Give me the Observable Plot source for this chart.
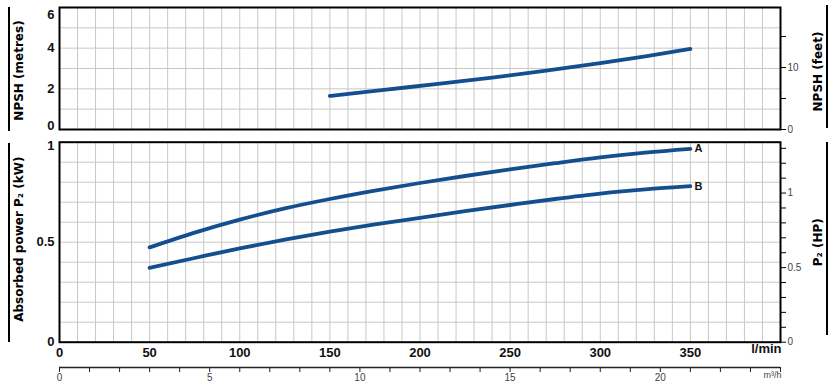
<!DOCTYPE html>
<html><head><meta charset="utf-8">
<script src="https://cdn.jsdelivr.net/npm/d3@7"></script>
<script src="https://cdn.jsdelivr.net/npm/@observablehq/plot@0.6"></script>
<style>
html,body{margin:0;padding:0;background:#fff;}
#chart{position:relative;width:838px;height:389px;overflow:hidden;background:#fff;}
#chart svg{position:absolute;left:0;overflow:visible;background:transparent;}
.bar{position:absolute;background:#000;width:2px;}
</style></head><body>
<div id="chart"></div>
<script>
// ---- data ----
const npshFlow   = [150, 180, 210, 240, 270, 300, 325, 350];           // l/min
const npshMetres = [1.65, 1.95, 2.24, 2.55, 2.89, 3.26, 3.60, 3.96];   // m

const powerFlow = [50, 75, 100, 125, 150, 175, 200, 225, 250, 275, 300, 325, 350]; // l/min
const powerA = [0.474, 0.548, 0.613, 0.669, 0.716, 0.758, 0.796, 0.831, 0.864, 0.895, 0.924, 0.948, 0.967]; // kW
const powerB = [0.372, 0.421, 0.469, 0.513, 0.553, 0.589, 0.622, 0.655, 0.686, 0.716, 0.743, 0.764, 0.780]; // kW
const curveNames = ["A", "B"];

// ---- ticks ----
const lminLabels = [0, 50, 100, 150, 200, 250, 300, 350];
const npshLeftLabels = [0, 2, 4, 6];
const feetTicks = [0, 5, 10, 15];
const feetLabels = [0, 10];
const kwLabels = [0, 0.5, 1];
const hpTicks = [0, 0.1, 0.2, 0.3, 0.4, 0.5, 0.6, 0.7, 0.8, 0.9, 1.0, 1.1, 1.2, 1.3];
const hpLabels = [0, 0.5, 1];
const m3hTicks = [0,1,2,3,4,5,6,7,8,9,10,11,12,13,14,15,16,17,18,19,20,21,22,23,24];
const m3hLabels = [0, 5, 10, 15, 20];

// unit conversions
const FT = 0.3048, HP = 0.7457;

const lminGrid = d3.range(10, 400, 10);
const npshGrid = d3.range(1, 6, 1);
const kwGrid = d3.range(1, 10).map(d => d / 10);

const FONT_NUM = '"Liberation Sans Narrow","Liberation Sans",Arial,sans-serif';
const FONT_SMALL = '"Liberation Sans",Arial,sans-serif';
const FONT_TITLE = '"DejaVu Sans",Verdana,sans-serif';
const BLUE = "#134f8e";
const GRID = "#c8c8c8";

const npsh = npshFlow.map((q, i) => ({q, h: npshMetres[i]}));
const power = [
  ...powerFlow.map((q, i) => ({q, p: powerA[i], c: curveNames[0]})),
  ...powerFlow.map((q, i) => ({q, p: powerB[i], c: curveNames[1]}))
];
const lastPoints = curveNames.map(c => power.filter(d => d.c === c).slice(-1)[0]);

const leftBold = {anchor: "left", label: null, tickSize: 0, tickPadding: 5, tickFormat: d => String(d),
  fontWeight: "bold", fontSize: 13, fontFamily: FONT_NUM, fill: "#111"};
const rightSmall = {anchor: "right", label: null, tickSize: 5, tickPadding: 2, fontSize: 10, fontFamily: FONT_SMALL, fill: "#444", stroke: "#000"};
const titleStyle = {rotate: -90, textAnchor: "middle", fontFamily: FONT_TITLE, fontWeight: "bold", fontSize: 12, fill: "#000"};

const common = {width: 838, marginLeft: 59, marginRight: 58, style: {background: "transparent", overflow: "visible"}};

// ---- top panel: NPSH ----
const topPlot = Plot.plot({
  ...common,
  height: 136, marginTop: 7, marginBottom: 7,
  x: {domain: [0, 400], axis: null},
  y: {domain: [0, 6], axis: null},
  marks: [
    Plot.gridX(lminGrid, {stroke: GRID, strokeOpacity: 1, strokeWidth: 1}),
    Plot.gridY(npshGrid, {stroke: GRID, strokeOpacity: 1, strokeWidth: 1}),
    Plot.axisY(npshLeftLabels.filter(d => d > 0 && d < 6), leftBold),
    Plot.axisY([npshLeftLabels[3]], {...leftBold, dy: 7}),
    Plot.axisY([npshLeftLabels[0]], {...leftBold, dy: -4}),
    Plot.axisY(feetTicks.map(f => f * FT), {...rightSmall,
      tickFormat: d => { const f = Math.round(d / FT); return feetLabels.includes(f) ? String(f) : ""; }}),
    Plot.line(npsh, {x: "q", y: "h", stroke: BLUE, strokeWidth: 3.8, curve: "monotone-x"}),
    Plot.frame({stroke: "#000", strokeWidth: 2}),
    Plot.text(["NPSH (metres)"], {...titleStyle, frameAnchor: "left", dx: -40, dy: 2}),
    Plot.text(["NPSH (feet)"], {...titleStyle, frameAnchor: "right", dx: 37.5, dy: 3})
  ]
});

// ---- bottom panel: absorbed power ----
const botPlot = Plot.plot({
  ...common,
  height: 228, marginTop: 7.7, marginBottom: 20.3,
  x: {domain: [0, 400], axis: null},
  y: {domain: [0, 1], axis: null},
  marks: [
    Plot.gridX(lminGrid, {stroke: GRID, strokeOpacity: 1, strokeWidth: 1}),
    Plot.gridY(kwGrid, {stroke: GRID, strokeOpacity: 1, strokeWidth: 1}),
    Plot.axisY(kwLabels.filter(d => d < 1), leftBold),
    Plot.axisY([kwLabels[2]], {...leftBold, dy: 3.5}),
    Plot.axisY(hpTicks.map(h => h * HP), {...rightSmall,
      tickFormat: d => { const h = Math.round(d / HP * 10) / 10; return hpLabels.includes(h) ? String(h) : ""; }}),
    Plot.axisX(lminLabels, {anchor: "bottom", label: null, tickSize: 0, tickPadding: 6, tickFormat: d => String(d),
      fontWeight: "bold", fontSize: 13, fontFamily: FONT_NUM, fill: "#111"}),
    Plot.text(["l/min"], {frameAnchor: "bottom-right", textAnchor: "end", dy: 10.5, dx: 1, fontWeight: "bold", fontSize: 13, fontFamily: FONT_NUM, fill: "#111"}),
    Plot.line(power, {x: "q", y: "p", z: "c", stroke: BLUE, strokeWidth: 3.8, curve: "monotone-x"}),
    Plot.text(lastPoints, {x: "q", y: "p", text: "c", dx: 4, textAnchor: "start", fontWeight: "bold", fontSize: 11, fontFamily: FONT_SMALL, fill: "#111"}),
    Plot.frame({stroke: "#000", strokeWidth: 2}),
    Plot.text(["Absorbed power P\u2082 (kW)"], {...titleStyle, frameAnchor: "left", dx: -40, dy: -3}),
    Plot.text(["P\u2082 (HP)"], {...titleStyle, frameAnchor: "right", dx: 37.5, dy: 0})
  ]
});

// ---- secondary flow axis: m³/h ----
const m3Plot = Plot.plot({
  ...common,
  height: 34, marginTop: 0, marginBottom: 22,
  x: {domain: [0, 24], axis: null},
  y: {domain: [0, 1], axis: null},
  marks: [
    Plot.ruleY([0], {stroke: "#222", strokeWidth: 1.3}),
    Plot.axisX(m3hTicks, {anchor: "bottom", label: null, tickSize: 5, tickPadding: 1, stroke: "#222",
      tickFormat: d => m3hLabels.includes(d) ? String(d) : "", fontSize: 10, fontFamily: FONT_SMALL, fill: "#444"}),
    Plot.text(["m\u00b3/h"], {frameAnchor: "bottom-right", textAnchor: "end", dy: 10.5, dx: 1, fontSize: 9, fontFamily: FONT_SMALL, fill: "#444"})
  ]
});

const chart = document.getElementById("chart");
topPlot.style.top = "0px";
botPlot.style.top = "134px";
m3Plot.style.top = "355px";
chart.append(topPlot, botPlot, m3Plot);

// decorative title bars
[[8, 7, 124], [8, 143, 199], [826, 5, 123], [826, 142, 193]].forEach(([x, y, h]) => {
  const b = document.createElement("div");
  b.className = "bar";
  b.style.left = x + "px"; b.style.top = y + "px"; b.style.height = h + "px";
  chart.append(b);
});
</script>
</body></html>
